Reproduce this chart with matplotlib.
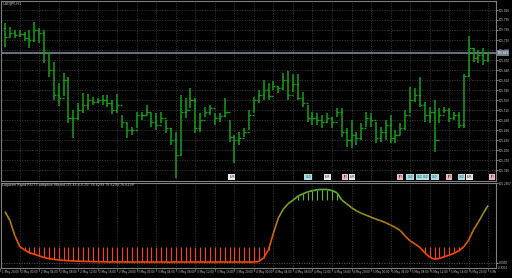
import numpy as np
import matplotlib.pyplot as plt
from matplotlib.collections import LineCollection
from matplotlib.colors import to_rgb
from matplotlib.transforms import blended_transform_factory, Bbox

symbol = "USDJPY,H1"
ind_name = "Laguerre Rapid RSI T3 adaptive filtered (25,45,6,0.25) 76.6299 76.6299 76.6299"

# OHLC prices
highs = [105.781, 105.769, 105.760, 105.760, 105.754, 105.760, 105.784, 105.766, 105.760, 105.694,
         105.664, 105.601, 105.631, 105.619, 105.520, 105.541, 105.571, 105.568, 105.559, 105.556,
         105.565, 105.565, 105.550, 105.568, 105.505, 105.481, 105.469, 105.514, 105.514, 105.535,
         105.511, 105.511, 105.514, 105.490, 105.466, 105.454, 105.565, 105.556, 105.586, 105.556,
         105.511, 105.529, 105.535, 105.511, 105.511, 105.556, 105.490, 105.445, 105.454, 105.466,
         105.520, 105.559, 105.580, 105.610, 105.601, 105.607, 105.592, 105.631, 105.637, 105.628,
         105.628, 105.574, 105.535, 105.514, 105.511, 105.505, 105.511, 105.499, 105.526, 105.526,
         105.466, 105.490, 105.454, 105.481, 105.514, 105.511, 105.484, 105.469, 105.490, 105.505,
         105.460, 105.481, 105.520, 105.589, 105.586, 105.619, 105.544, 105.529, 105.550, 105.526,
         105.529, 105.526, 105.514, 105.514, 105.628, 105.742, 105.706, 105.700, 105.706, 105.694]
lows = [105.709, 105.739, 105.736, 105.739, 105.727, 105.706, 105.724, 105.721, 105.661, 105.619,
        105.550, 105.532, 105.562, 105.481, 105.436, 105.490, 105.511, 105.520, 105.535, 105.541,
        105.535, 105.529, 105.508, 105.511, 105.466, 105.436, 105.445, 105.466, 105.490, 105.505,
        105.469, 105.460, 105.481, 105.451, 105.415, 105.316, 105.385, 105.496, 105.526, 105.451,
        105.454, 105.499, 105.505, 105.475, 105.484, 105.499, 105.424, 105.361, 105.415, 105.439,
        105.460, 105.511, 105.541, 105.550, 105.550, 105.580, 105.571, 105.580, 105.550, 105.574,
        105.550, 105.529, 105.484, 105.475, 105.475, 105.466, 105.481, 105.466, 105.499, 105.439,
        105.409, 105.406, 105.415, 105.430, 105.469, 105.469, 105.421, 105.424, 105.430, 105.421,
        105.421, 105.445, 105.460, 105.511, 105.544, 105.529, 105.484, 105.481, 105.394, 105.481,
        105.511, 105.484, 105.490, 105.466, 105.466, 105.619, 105.664, 105.661, 105.655, 105.664]
closes = [105.739, 105.751, 105.745, 105.748, 105.736, 105.730, 105.760, 105.751, 105.694, 105.640,
          105.565, 105.556, 105.610, 105.496, 105.496, 105.520, 105.535, 105.550, 105.544, 105.550,
          105.550, 105.541, 105.520, 105.535, 105.484, 105.460, 105.460, 105.505, 105.505, 105.514,
          105.484, 105.475, 105.496, 105.466, 105.430, 105.385, 105.514, 105.520, 105.550, 105.466,
          105.490, 105.514, 105.526, 105.496, 105.502, 105.514, 105.439, 105.430, 105.436, 105.454,
          105.505, 105.550, 105.565, 105.580, 105.562, 105.592, 105.586, 105.610, 105.565, 105.598,
          105.556, 105.541, 105.496, 105.496, 105.490, 105.484, 105.496, 105.484, 105.514, 105.454,
          105.430, 105.445, 105.436, 105.466, 105.496, 105.490, 105.436, 105.454, 105.475, 105.436,
          105.445, 105.466, 105.505, 105.550, 105.565, 105.535, 105.505, 105.514, 105.430, 105.505,
          105.520, 105.496, 105.505, 105.475, 105.622, 105.706, 105.676, 105.685, 105.670, 105.691]
opens = [105.766] + closes[:-1]

# indicator values
rsi = [65, 54, 35, 21, 16.5, 13, 11, 9, 7, 5.5,
       4.6, 3.8, 3.3, 3.0, 2.6, 2.3, 2.1, 1.9, 1.8, 1.7,
       1.6, 1.5, 1.5, 1.4, 1.4, 1.3, 1.3, 1.2, 1.2, 1.2,
       1.1, 1.1, 1.1, 1.1, 1.0, 1.0, 1.0, 1.0, 1.0, 1.0,
       1.0, 1.0, 1.0, 1.0, 1.0, 1.0, 1.0, 1.0, 1.0, 1.0,
       1.0, 1.2, 2.0, 6.5, 17, 38, 57, 68, 75, 79.5,
       84.5, 87.5, 90, 91.5, 92.8, 93.2, 93, 91.8, 89, 79.8,
       75, 70, 66, 63, 60.5, 58, 55.5, 53.5, 51, 48,
       45, 41, 34, 28, 24, 19.8, 13, 7.5, 4.8, 5.8,
       8, 10, 12.3, 15.5, 20.5, 29, 42, 52, 63, 73]
level_lo = 20
level_hi = 80

price_ticks = [105.820, 105.790, 105.760, 105.730, 105.700, 105.670, 105.640, 105.610, 105.580,
               105.550, 105.520, 105.490, 105.460, 105.430, 105.400, 105.370, 105.340]
time_labels = ["1 May 20:00", "2 May 00:00", "2 May 04:00", "2 May 08:00", "2 May 12:00",
               "2 May 16:00", "2 May 20:00", "3 May 00:00", "3 May 04:00", "3 May 08:00",
               "3 May 12:00", "3 May 16:00", "3 May 20:00", "4 May 00:00", "4 May 04:00",
               "4 May 08:00", "4 May 12:00", "4 May 16:00", "4 May 20:00", "5 May 00:00",
               "5 May 04:00", "5 May 08:00", "5 May 12:00", "5 May 16:00", "5 May 20:00",
               "6 May 00:00"]

event_bars = [46.5, 62.1, 66.0, 69.7, 71.1, 80.9, 83.0, 85.0, 86.1, 88.1, 91.0, 93.6, 95.1, 99.8]
event_cur = ["EUR", "USD", "EUR", "JPY", "EUR", "JPY", "USD", "USD", "USD", "USD", "JPY", "USD", "EUR", "JPY"]
cur_color = {"USD": "#a8e0e8", "JPY": "#f0b8c0", "EUR": "#e8e8e8"}

W, H = 512, 278
def rect(x0, y0, x1, y1):
    return [x0 / W, 1 - y1 / H, (x1 - x0) / W, (y1 - y0) / H]

fig = plt.figure(figsize=(W / 100, H / 100), dpi=100, facecolor='black')
ax = fig.add_axes(rect(1, 1, 496, 181), facecolor='black')
ax2 = fig.add_axes(rect(1, 182.5, 496, 268), facecolor='black')

n = len(closes)
idx = np.arange(n)
grid_x = np.arange(-1, n, 4)
gridc = '#3a3a3a'
fs = 2.0

for a in (ax, ax2):
    a.set_xlim(-0.82, 100.6)
    a.set_xticks([])
    for s in a.spines.values():
        s.set_color('#808080')
        s.set_linewidth(0.8)
    a.vlines(grid_x, -1000, 1000, color=gridc, lw=0.6, linestyles=(0, (1.5, 1.5)), zorder=0)

# main price panel
ax.set_ylim(105.307, 105.847)
ax.hlines(price_ticks, -2, 102, color=gridc, lw=0.6, linestyles=(0, (1.5, 1.5)), zorder=0)
bar_c = '#19a019'
ax.vlines(idx, lows, highs, color=bar_c, lw=1.1)
ax.hlines(opens, idx - 0.42, idx, color=bar_c, lw=1.0)
ax.hlines(closes, idx, idx + 0.42, color=bar_c, lw=1.0)
ax.axhline(closes[-1], color='#778899', lw=1.2, zorder=1)

ax.yaxis.tick_right()
ax.set_yticks(price_ticks)
ax.set_yticklabels([f"{p:.3f}" for p in price_ticks])
ax.tick_params(axis='y', labelsize=fs, colors='#c8c8c8', length=1.5, width=0.5, pad=0.8)
ax.text(1.003, closes[-1], f"{closes[-1]:.3f}", transform=blended_transform_factory(ax.transAxes, ax.transData),
        fontsize=fs, color='white', va='center', ha='left',
        bbox=dict(boxstyle='square,pad=0.3', fc='#708090', ec='none'), clip_on=False)
ax.text(0.003, 0.995, symbol, transform=ax.transAxes, va='top', ha='left', fontsize=2.6, color='#d0d0d0')

for b, c in zip(event_bars, event_cur):
    ax.text(b, 105.319, c, fontsize=1.9, color='#303030', ha='center', va='center',
            bbox=dict(boxstyle='square,pad=0.3', fc=cur_color[c], ec='none'))

# indicator panel
ax2.set_ylim(-6.33, 101.9)
ax2.axhline(0, color='#555555', lw=0.6, linestyle=(0, (1.5, 1.5)))
r = np.array(rsi, dtype=float)
lo_mask = r < level_lo
hi_mask = r > level_hi
ax2.vlines(idx[lo_mask], r[lo_mask], level_lo, color='#ff4500', lw=0.8)
ax2.vlines(idx[hi_mask], level_hi, r[hi_mask], color='#6ab42a', lw=0.8)

pts = np.column_stack([idx, r])
segs = np.stack([pts[:-1], pts[1:]], axis=1)
mid = (r[:-1] + r[1:]) / 2
t = np.clip((mid - 10) / 80, 0, 1)[:, None]
lo_c = np.array(to_rgb('#ff4500'))
hi_c = np.array(to_rgb('#5cb82a'))
ax2.add_collection(LineCollection(segs, colors=lo_c * (1 - t) + hi_c * t, linewidths=1.2))

ax2.yaxis.tick_right()
ax2.set_yticks([101.2507, 0])
ax2.set_yticklabels(["101.2507", "0.0000"])
ax2.tick_params(axis='y', labelsize=fs, colors='#c8c8c8', length=1.5, width=0.5, pad=0.8)
ax2.text(1.004, 0.005, "-0.3251", transform=ax2.transAxes, fontsize=fs, color='#c8c8c8',
         va='center', ha='left', clip_on=False)
ax2.text(0.003, 0.99, ind_name, transform=ax2.transAxes, va='top', ha='left', fontsize=2.3, color='#d0d0d0')

# time labels, clipped at the price scale like the terminal does
tr = blended_transform_factory(ax2.transData, ax2.transAxes)
label_clip = Bbox.from_extents(0, 0, 496, 12)
for gx, lab in zip(grid_x, time_labels):
    tx = ax2.text(gx + 0.35, -0.025, lab, transform=tr, fontsize=fs, color='#c8c8c8',
                  ha='left', va='top', clip_on=True)
    tx.set_clip_box(label_clip)
    ax2.plot([gx, gx], [0, -0.03], transform=tr, color='#808080', lw=0.5, clip_on=False)

fig.savefig('out.png', dpi=100, facecolor='black')
